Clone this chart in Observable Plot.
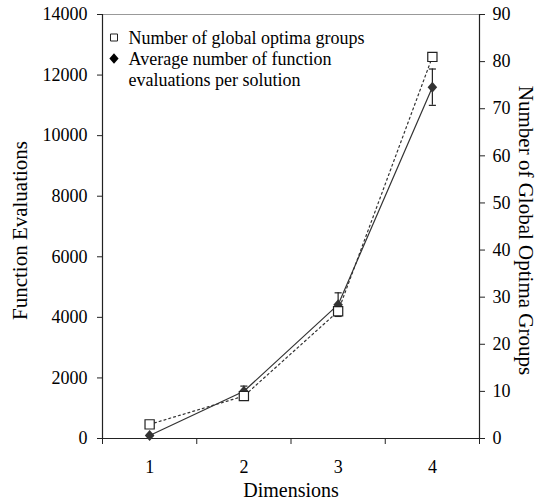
<!DOCTYPE html>
<html>
<head>
<meta charset="utf-8">
<script src="https://cdn.jsdelivr.net/npm/d3@7"></script>
<script src="https://cdn.jsdelivr.net/npm/@observablehq/plot@0.6"></script>
<style>
  body { margin: 0; background: white; }
  #chart svg { display: block; }
  #chart svg text { font-family: "Liberation Serif", "Times New Roman", serif; }
</style>
</head>
<body>
<div id="chart"></div>
<script>
// ---- data ----
const dims = [1, 2, 3, 4];
const evals = [100, 1560, 4420, 11600];          // average function evaluations per solution (left axis)
const evalErr = [30, 170, 390, 600];             // error bar half-lengths
const groups = [3, 9, 27, 81];                   // number of global optima groups (right axis)
const leftTicks = [0, 2000, 4000, 6000, 8000, 10000, 12000, 14000];
const rightTicks = [0, 10, 20, 30, 40, 50, 60, 70, 80, 90];
const xBounds = [0.5, 1.5, 2.5, 3.5, 4.5];
const legendLabels = ["Number of global optima groups", "Average number of function", "evaluations per solution"];
const titles = {x: "Dimensions", yLeft: "Function Evaluations", yRight: "Number of Global Optima Groups"};

const leftMax = 14000, rightMax = 90;
const k = leftMax / rightMax;

const evalData = dims.map((d, i) => ({dim: d, v: evals[i], lo: evals[i] - evalErr[i], hi: evals[i] + evalErr[i]}));
const groupData = dims.map((d, i) => ({dim: d, v: groups[i] * k}));

const capSymbol = {draw(ctx, size) { const w = Math.sqrt(size) / 2; ctx.moveTo(-w, 0); ctx.lineTo(w, 0); }};
const diamondSymbol = {draw(ctx, size) {
  const s = Math.sqrt(size), hh = s * 0.62, hw = s * 0.54;
  ctx.moveTo(0, -hh); ctx.lineTo(hw, 0); ctx.lineTo(0, hh); ctx.lineTo(-hw, 0); ctx.closePath();
}};

const ink = "#222";
const serif = "Liberation Serif";

const chart = Plot.plot({
  width: 538,
  height: 501,
  marginLeft: 102,
  marginRight: 59,
  marginTop: 14,
  marginBottom: 63,
  style: {fontFamily: serif, fontSize: "18px", color: "black", background: "white"},
  x: {domain: [0.5, 4.5]},
  y: {domain: [0, leftMax]},
  marks: [
    // frame lines
    Plot.ruleY([leftMax], {stroke: "#999", strokeWidth: 1}),
    Plot.ruleY([0], {stroke: ink, strokeWidth: 1.2}),
    Plot.ruleX([0.5], {stroke: ink, strokeWidth: 1.2}),
    Plot.ruleX([4.5], {stroke: ink, strokeWidth: 1.2}),
    // axes
    Plot.axisY(leftTicks, {anchor: "left", tickSize: 5, tickPadding: 10, label: null, stroke: ink,
      fontFamily: serif, fontVariant: "normal", tickFormat: d => String(d)}),
    Plot.axisY(rightTicks.map(v => v * k), {anchor: "right", tickSize: 5, tickPadding: 8, label: null, stroke: ink,
      fontFamily: serif, fontVariant: "normal", tickFormat: d => String(Math.round(d / k))}),
    Plot.axisX(xBounds, {anchor: "bottom", tickSize: 6, tickFormat: () => "", label: null, stroke: ink}),
    Plot.axisX(dims, {anchor: "bottom", tickSize: 0, tickPadding: 22, label: null, fontFamily: serif,
      fontVariant: "normal", tickFormat: d => String(d)}),
    // titles
    Plot.text([titles.x], {frameAnchor: "bottom", dy: 52, fontSize: 20, fontFamily: serif, textAnchor: "middle", lineAnchor: "middle"}),
    Plot.text([titles.yLeft], {frameAnchor: "left", dx: -82, dy: 4, rotate: -90, fontSize: 21, fontFamily: serif, textAnchor: "middle", lineAnchor: "middle"}),
    Plot.text([titles.yRight], {frameAnchor: "right", dx: 46, dy: 4, rotate: 90, fontSize: 21, fontFamily: serif, textAnchor: "middle", lineAnchor: "middle"}),
    // series lines
    Plot.line(groupData, {x: "dim", y: "v", stroke: "#333", strokeWidth: 1.2, strokeDasharray: "2,3"}),
    Plot.line(evalData, {x: "dim", y: "v", stroke: "#333", strokeWidth: 1.2}),
    // error bars
    Plot.ruleX(evalData, {x: "dim", y1: "lo", y2: "hi", stroke: ink, strokeWidth: 1.2}),
    Plot.dot(evalData, {x: "dim", y: "hi", symbol: capSymbol, r: 4, stroke: ink, strokeWidth: 1.2}),
    Plot.dot(evalData, {x: "dim", y: "lo", symbol: capSymbol, r: 4, stroke: ink, strokeWidth: 1.2}),
    // markers
    Plot.dot(evalData, {x: "dim", y: "v", symbol: diamondSymbol, r: 5, fill: "#333", stroke: "none"}),
    Plot.dot(groupData, {x: "dim", y: "v", symbol: "square", r: 5.2, fill: "white", stroke: ink, strokeWidth: 1.2}),
    // legend
    Plot.dot([0], {frameAnchor: "top-left", dx: 11.5, dy: 23, symbol: "square", r: 3.95, fill: "white", stroke: ink, strokeWidth: 1}),
    Plot.dot([0], {frameAnchor: "top-left", dx: 11.5, dy: 44, symbol: diamondSymbol, r: 4.8, fill: "black", stroke: "none"}),
    Plot.text([legendLabels[0]], {frameAnchor: "top-left", dx: 26, dy: 23.5, textAnchor: "start", lineAnchor: "middle", fontFamily: serif}),
    Plot.text([legendLabels[1]], {frameAnchor: "top-left", dx: 26, dy: 44.5, textAnchor: "start", lineAnchor: "middle", fontFamily: serif}),
    Plot.text([legendLabels[2]], {frameAnchor: "top-left", dx: 26, dy: 66, textAnchor: "start", lineAnchor: "middle", fontFamily: serif})
  ]
});
document.getElementById("chart").appendChild(chart);
</script>
</body>
</html>
